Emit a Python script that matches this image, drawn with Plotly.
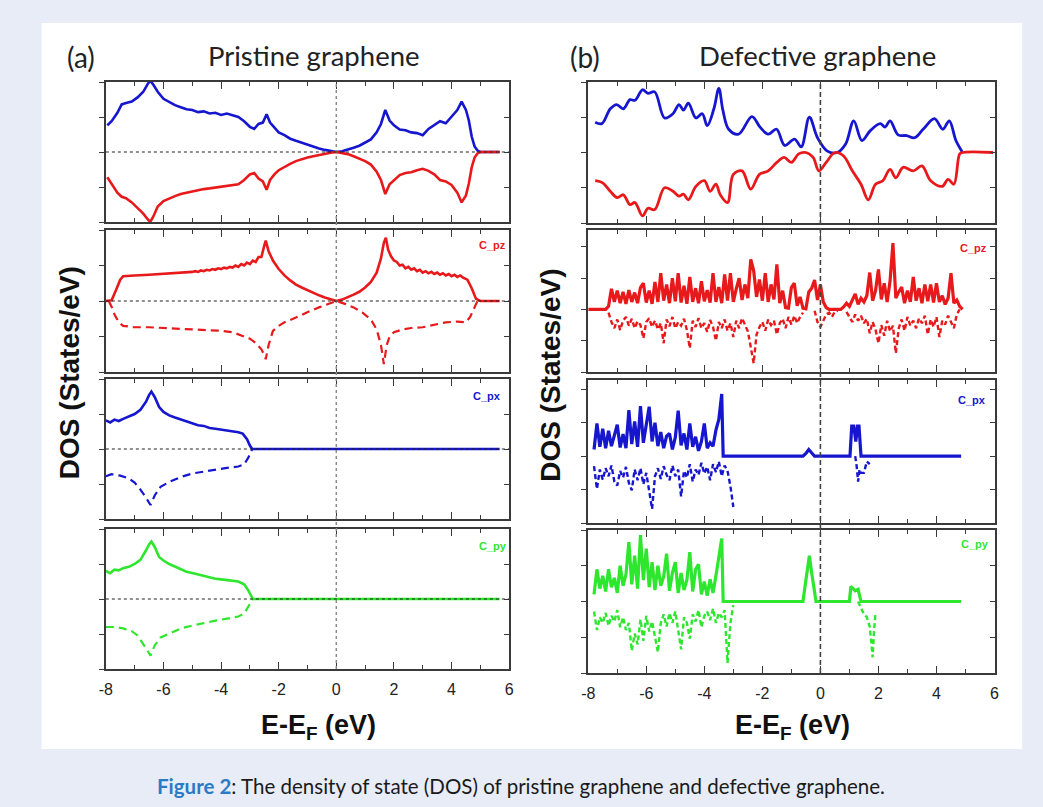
import numpy as np
import plotly.graph_objects as go

W, H = 1043, 807

# ---------------- colours ----------------
BLUE = "#1616cf"
RED = "#e8191b"
GREEN = "#2ee62e"
FRAME = "#3a3a3a"

# ---------------- energy tick labels ----------------
TICK_VALS = [-8, -6, -4, -2, 0, 2, 4, 6]
TICK_TEXT = ["-8", "-6", "-4", "-2", "0", "2", "4", "6"]

# ================= (a) Pristine graphene =================
# total DOS (spin up / spin down)
A1_X = [-7.95, -7.8, -7.6, -7.45, -7.3, -7.1, -6.9, -6.7, -6.55, -6.46, -6.35, -6.2, -6.0, -5.8,
        -5.6, -5.4, -5.2, -5.0, -4.8, -4.6, -4.4, -4.2, -4.0, -3.8, -3.6, -3.4, -3.2, -3.0, -2.85,
        -2.7, -2.55, -2.42, -2.3, -2.15, -2.0, -1.8, -1.6, -1.4, -1.2, -1.0, -0.8, -0.6, -0.4,
        -0.2, 0.0, 0.2, 0.4, 0.6, 0.8, 1.0, 1.2, 1.4, 1.55, 1.7, 1.85, 2.0, 2.2, 2.4, 2.6, 2.8,
        3.0, 3.2, 3.4, 3.6, 3.8, 4.0, 4.2, 4.35, 4.5, 4.6, 4.7, 4.8, 4.9, 5.0, 5.2, 5.67]
A1_UP = [0.38, 0.44, 0.56, 0.68, 0.70, 0.72, 0.78, 0.86, 0.97, 1.02, 0.96, 0.86, 0.76, 0.71,
         0.67, 0.64, 0.61, 0.60, 0.57, 0.58, 0.55, 0.56, 0.53, 0.55, 0.52, 0.50, 0.44, 0.36, 0.33,
         0.40, 0.42, 0.54, 0.42, 0.35, 0.28, 0.24, 0.19, 0.16, 0.13, 0.10, 0.07, 0.05, 0.03,
         0.01, 0.0, 0.01, 0.03, 0.06, 0.09, 0.13, 0.18, 0.28, 0.40, 0.60, 0.45, 0.38, 0.32, 0.31,
         0.28, 0.27, 0.24, 0.33, 0.39, 0.44, 0.41, 0.50, 0.60, 0.72, 0.60, 0.45, 0.22, 0.08, 0.02,
         0.0, 0.0, 0.0]
A1_DN = [-0.36, -0.45, -0.58, -0.64, -0.66, -0.72, -0.80, -0.88, -0.96, -1.0, -0.92, -0.78, -0.70,
         -0.66, -0.63, -0.60, -0.58, -0.56, -0.54, -0.53, -0.52, -0.51, -0.50, -0.49, -0.48, -0.46,
         -0.40, -0.32, -0.30, -0.38, -0.42, -0.54, -0.40, -0.32, -0.26, -0.21, -0.17, -0.13, -0.10,
         -0.08, -0.06, -0.04, -0.02, -0.01, 0.0, -0.01, -0.03, -0.06, -0.09, -0.13, -0.18, -0.28,
         -0.40, -0.60, -0.46, -0.40, -0.33, -0.30, -0.29, -0.26, -0.24, -0.27, -0.32, -0.40, -0.42,
         -0.47, -0.58, -0.72, -0.62, -0.45, -0.22, -0.08, -0.02, 0.0, 0.0, 0.0]

# C_pz
A2_UP_X = [-8.0, -7.8, -7.65, -7.5, -7.4, -7.2, -7.0, -6.5, -6.0, -5.5,
           -5.0, -4.9, -4.8, -4.7, -4.6, -4.5, -4.4, -4.3, -4.2, -4.1, -4.0, -3.9, -3.8, -3.7,
           -3.6, -3.5, -3.4, -3.3, -3.2, -3.1, -3.0, -2.9, -2.8, -2.7, -2.6,
           -2.5, -2.45, -2.35, -2.2, -2.0, -1.8, -1.6, -1.4, -1.2, -1.0, -0.8, -0.6, -0.4, -0.2,
           0.0, 0.2, 0.4, 0.6, 0.8, 1.0, 1.2, 1.4, 1.55, 1.65, 1.72, 1.8,
           1.9, 2.0, 2.1, 2.2, 2.3, 2.4, 2.5, 2.6, 2.7, 2.8, 2.9, 3.0, 3.1, 3.2, 3.3, 3.4, 3.5,
           3.6, 3.7, 3.8, 3.9, 4.0, 4.1, 4.2, 4.3, 4.4,
           4.55, 4.7, 4.85, 5.0, 5.67]
A2_UP = [0.0, 0.01, 0.15, 0.30, 0.35, 0.36, 0.36, 0.37, 0.38, 0.39,
         0.41, 0.42, 0.41, 0.43, 0.42, 0.44, 0.43, 0.45, 0.44, 0.46, 0.45, 0.47, 0.46, 0.48,
         0.47, 0.50, 0.48, 0.52, 0.50, 0.54, 0.52, 0.57, 0.55, 0.62, 0.62,
         0.78, 0.85, 0.70, 0.57, 0.45, 0.36, 0.29, 0.23, 0.19, 0.15, 0.12, 0.08, 0.05, 0.02,
         0.0, 0.02, 0.05, 0.09, 0.13, 0.19, 0.27, 0.40, 0.60, 0.82, 0.89, 0.72,
         0.63, 0.57, 0.55, 0.50, 0.51, 0.46, 0.48, 0.44, 0.46, 0.42, 0.44, 0.40, 0.42, 0.39, 0.41,
         0.38, 0.40, 0.37, 0.39, 0.36, 0.38, 0.35, 0.37, 0.34, 0.36, 0.33,
         0.30, 0.18, 0.03, 0.0, 0.0]
A2_DN_X = [-7.9, -7.8, -7.7, -7.55, -7.4, -7.0, -6.5, -6.0, -5.5, -5.0, -4.5, -4.0, -3.6, -3.3,
           -3.0, -2.8, -2.6, -2.5, -2.45, -2.35, -2.2, -2.0, -1.8, -1.5, -1.2, -0.9, -0.6, -0.3,
           0.0, 0.3, 0.6, 0.9, 1.2, 1.4, 1.55, 1.65, 1.75, 1.85, 2.0, 2.3, 2.6, 3.0, 3.4, 3.8,
           4.2, 4.5, 4.65, 4.8, 4.9]
A2_DN = [0.0, -0.08, -0.19, -0.30, -0.35, -0.37, -0.37, -0.38, -0.38, -0.40, -0.41, -0.42, -0.44,
         -0.48, -0.53, -0.59, -0.68, -0.76, -0.82, -0.62, -0.42, -0.35, -0.30, -0.25, -0.19, -0.14,
         -0.09, -0.04, 0.0, -0.04, -0.09, -0.16, -0.26, -0.40, -0.62, -0.89, -0.62, -0.50, -0.44,
         -0.40, -0.38, -0.37, -0.33, -0.30, -0.29, -0.30, -0.22, -0.08, 0.0]

# C_px
A3_UP_X = [-8.0, -7.85, -7.7, -7.55, -7.4, -7.2, -7.0, -6.8, -6.6, -6.5, -6.42, -6.3, -6.15, -6.0,
           -5.8, -5.6, -5.4, -5.2, -5.0, -4.8, -4.6, -4.4, -4.2, -4.0, -3.8, -3.6, -3.4, -3.25,
           -3.1, -3.0, -2.92, 5.67]
A3_UP = [0.41, 0.38, 0.42, 0.40, 0.43, 0.46, 0.50, 0.56, 0.68, 0.77, 0.82, 0.74, 0.60, 0.53, 0.48,
         0.45, 0.42, 0.39, 0.37, 0.34, 0.33, 0.30, 0.29, 0.28, 0.27, 0.26, 0.24, 0.22, 0.14, 0.05,
         0.0, 0.0]
A3_DN_X = [-8.0, -7.8, -7.5, -7.2, -7.0, -6.8, -6.6, -6.45, -6.3, -6.1, -5.8, -5.4, -5.0, -4.6,
           -4.2, -3.8, -3.4, -3.2, -3.05, -2.92]
A3_DN = [-0.39, -0.36, -0.38, -0.42, -0.48, -0.58, -0.70, -0.80, -0.66, -0.54, -0.47, -0.40, -0.35,
         -0.32, -0.30, -0.27, -0.25, -0.22, -0.12, 0.0]

# C_py
A4_UP_X = [-8.0, -7.85, -7.7, -7.55, -7.4, -7.2, -7.0, -6.8, -6.6, -6.5, -6.42, -6.3, -6.15, -6.0,
           -5.8, -5.6, -5.4, -5.2, -5.0, -4.8, -4.6, -4.4, -4.2, -4.0, -3.8, -3.6, -3.4, -3.2,
           -3.05, -2.9, 5.67]
A4_UP = [0.40, 0.37, 0.42, 0.41, 0.44, 0.46, 0.50, 0.56, 0.70, 0.78, 0.82, 0.74, 0.60, 0.55, 0.50,
         0.46, 0.42, 0.39, 0.37, 0.35, 0.32, 0.31, 0.29, 0.28, 0.27, 0.26, 0.25, 0.21, 0.12, 0.0, 0.0]
A4_DN_X = [-8.0, -7.7, -7.4, -7.1, -6.9, -6.7, -6.55, -6.45, -6.3, -6.1, -5.8, -5.4, -5.0, -4.6,
           -4.2, -3.8, -3.4, -3.2, -3.05, -2.9]
A4_DN = [-0.40, -0.40, -0.42, -0.46, -0.52, -0.64, -0.74, -0.81, -0.66, -0.55, -0.49, -0.42, -0.38,
         -0.34, -0.31, -0.28, -0.25, -0.21, -0.10, 0.0]

# ================= (b) Defective graphene =================
B1_UP_X = [-7.76, -7.53, -7.24, -7.02, -6.79, -6.56, -6.39, -6.13, -5.94, -5.71, -5.37, -5.08,
           -4.87, -4.72, -4.55, -4.29, -4.07, -3.90, -3.67, -3.50, -3.36, -3.16, -2.82, -2.36,
           -2.08, -1.80, -1.51, -1.23, -0.89, -0.66, -0.38, -0.10, 0.24, 0.58, 0.87, 1.15, 1.43,
           1.72, 2.06, 2.23, 2.40, 2.68, 2.97, 3.25, 3.54, 3.93, 4.22, 4.44, 4.67, 4.90]
B1_UP = [0.43, 0.41, 0.62, 0.68, 0.62, 0.75, 0.74, 0.89, 0.84, 0.86, 0.49, 0.55, 0.68, 0.60, 0.70,
         0.49, 0.55, 0.38, 0.62, 0.91, 0.60, 0.33, 0.26, 0.51, 0.36, 0.26, 0.33, 0.10, 0.19, 0.08,
         0.50, 0.21, 0.02, 0.0, 0.12, 0.45, 0.17, 0.31, 0.41, 0.36, 0.45, 0.25, 0.24, 0.21, 0.33,
         0.48, 0.33, 0.45, 0.17, 0.0]
B1_DN_X = [-7.76, -7.5, -7.24, -7.0, -6.79, -6.56, -6.39, -6.13, -5.94, -5.71, -5.37, -5.08, -4.87,
           -4.72, -4.55, -4.29, -4.0, -3.8, -3.6, -3.45, -3.2, -3.0, -2.7, -2.4, -2.1, -1.8, -1.5,
           -1.25, -1.0, -0.75, -0.5, -0.25, -0.05, 0.2, 0.5, 0.8, 1.1, 1.4, 1.65, 1.9, 2.15, 2.4,
           2.6, 2.85, 3.2, 3.5, 3.8, 4.2, 4.4, 4.6, 4.8, 4.9, 5.95]
B1_DN = [-0.40, -0.43, -0.55, -0.64, -0.60, -0.74, -0.71, -0.90, -0.79, -0.81, -0.50, -0.55, -0.62,
         -0.59, -0.67, -0.48, -0.40, -0.55, -0.45, -0.60, -0.71, -0.31, -0.26, -0.52, -0.31, -0.26,
         -0.14, -0.07, -0.14, -0.02, 0.0, -0.07, -0.26, -0.14, 0.0, -0.05, -0.26, -0.45, -0.67,
         -0.45, -0.40, -0.24, -0.36, -0.21, -0.26, -0.19, -0.40, -0.48, -0.38, -0.45, -0.02, 0.0,
         0.0]

# C_pz (sampled every 0.1 eV from the start energy)
B2_UP_E0 = -8.0
B2_UP = [0.0, 0.0, 0.0, 0.0, 0.0, 0.0, 0.0,
         0.05, 0.33, 0.12, 0.30, 0.10, 0.28, 0.09, 0.31, 0.12, 0.27, 0.10, 0.35, 0.42, 0.11, 0.30,
         0.09, 0.44, 0.12, 0.58, 0.14, 0.40, 0.10, 0.50, 0.13, 0.58, 0.11, 0.38, 0.09, 0.52, 0.12,
         0.34, 0.10, 0.45, 0.13, 0.31, 0.11, 0.58, 0.12, 0.36, 0.10, 0.56, 0.14, 0.58, 0.12, 0.33,
         0.50, 0.15, 0.40, 0.18, 0.80, 0.62, 0.20, 0.48, 0.14, 0.58, 0.12, 0.40, 0.16, 0.72, 0.10,
         0.30, 0.03, 0.02, 0.35, 0.42, 0.06, 0.20, 0.02, 0.01, 0.28, 0.34, 0.47, 0.15,
         0.40, 0.12, 0.03, 0.0, 0.0, 0.0, 0.0, 0.0, 0.04, 0.10, 0.05, 0.14, 0.25, 0.08, 0.18, 0.12,
         0.22, 0.59, 0.14, 0.30, 0.64, 0.16, 0.42, 0.12, 0.45, 1.06, 0.18, 0.28, 0.36, 0.10, 0.30,
         0.12, 0.52, 0.14, 0.34, 0.10, 0.40, 0.13, 0.40, 0.11, 0.42, 0.12, 0.22, 0.08, 0.18, 0.58,
         0.10, 0.15, 0.05, 0.0]
B2_DN_E0 = -7.3
B2_DN = [-0.05, -0.20, -0.30, -0.16, -0.33, -0.18, -0.12, -0.26, -0.15, -0.30, -0.19, -0.25, -0.46,
         -0.20, -0.14, -0.28, -0.18, -0.32, -0.22, -0.54, -0.16, -0.27, -0.12, -0.30, -0.20, -0.26,
         -0.15, -0.33, -0.62, -0.18, -0.28, -0.14, -0.30, -0.22, -0.36, -0.17, -0.28, -0.50, -0.20,
         -0.30, -0.16, -0.34, -0.22, -0.44, -0.18, -0.30, -0.14, -0.26, -0.35, -0.60, -0.86, -0.40,
         -0.28, -0.20, -0.34, -0.16, -0.25, -0.18, -0.40, -0.22, -0.15, -0.30, -0.12, -0.24, -0.10,
         -0.22, -0.12, -0.05, None, None, None, -0.02, -0.20,
         -0.28, -0.18, -0.08, -0.05, -0.12, -0.03, -0.02, None, None, -0.04, -0.12, -0.20, -0.08,
         -0.18, -0.10, -0.22, -0.15, -0.38, -0.20, -0.32, -0.54, -0.25, -0.42, -0.18, -0.35, -0.26,
         -0.70, -0.30, -0.16, -0.34, -0.12, -0.26, -0.18, -0.30, -0.14, -0.22, -0.10, -0.40, -0.16,
         -0.28, -0.12, -0.44, -0.18, -0.24, -0.10, -0.20, -0.30, -0.08, 0.0]

# C_px
B3_UP_E0 = -7.8
B3_UP = [0.10, 0.49, 0.14, 0.41, 0.12, 0.38, 0.15, 0.30, 0.47, 0.13, 0.33, 0.12, 0.69, 0.18, 0.52,
         0.14, 0.75, 0.20, 0.45, 0.74, 0.22, 0.50, 0.15, 0.36, 0.12, 0.30, 0.34, 0.10, 0.28, 0.68,
         0.16, 0.34, 0.10, 0.49, 0.14, 0.29, 0.08, 0.22, 0.49, 0.12, 0.20, 0.15, 0.39, 0.55, 0.93]
B3_UP_TAIL_X = [-3.35, -0.6, -0.5, -0.4, -0.3, -0.2, 1.02, 1.08, 1.15, 1.22, 1.28, 1.33, 1.4, 4.85]
B3_UP_TAIL = [0.0, 0.0, 0.04, 0.10, 0.05, 0.0, 0.0, 0.45, 0.45, 0.22, 0.45, 0.45, 0.0, 0.0]
B3_DN_E0 = -7.8
B3_DN = [-0.15, -0.49, -0.20, -0.35, -0.18, -0.30, -0.14, -0.38, -0.44, -0.22, -0.32, -0.16, -0.40,
         -0.51, -0.20, -0.36, -0.18, -0.42, -0.25, -0.55, -0.79, -0.30, -0.18, -0.34, -0.15, -0.28,
         -0.36, -0.14, -0.30, -0.20, -0.60, -0.22, -0.32, -0.12, -0.38, -0.20, -0.28, -0.10, -0.26,
         -0.16, -0.36, -0.12, -0.24, -0.08, -0.30, -0.14, -0.22, -0.45, -0.76]
B3_DN_TAIL_X = [1.2, 1.25, 1.3, 1.35, 1.4, 1.5, 1.6, 1.7]
B3_DN_TAIL = [0.0, -0.15, -0.38, -0.20, -0.25, -0.25, -0.08, -0.12]

# C_py
B4_UP_E0 = -7.8
B4_UP = [0.10, 0.45, 0.18, 0.36, 0.14, 0.45, 0.20, 0.33, 0.12, 0.50, 0.22, 0.38, 0.83, 0.24, 0.64,
         0.18, 0.93, 0.30, 0.74, 0.20, 0.55, 0.16, 0.50, 0.22, 0.35, 0.67, 0.15, 0.40, 0.55, 0.12,
         0.40, 0.16, 0.30, 0.69, 0.14, 0.45, 0.52, 0.10, 0.28, 0.08, 0.31, 0.12, 0.36, 0.60, 0.88]
B4_UP_TAIL_X = [-3.35, -0.6, -0.55, -0.45, -0.38, -0.3, -0.22, -0.15, 1.0, 1.05, 1.1, 1.2, 1.3,
                1.35, 1.4, 4.85]
B4_UP_TAIL = [0.0, 0.0, 0.15, 0.45, 0.64, 0.40, 0.15, 0.0, 0.0, 0.21, 0.19, 0.15, 0.17, 0.10, 0.0,
              0.0]
B4_DN_E0 = -7.8
B4_DN = [-0.14, -0.40, -0.22, -0.30, -0.16, -0.34, -0.20, -0.28, -0.12, -0.36, -0.22, -0.40, -0.30,
         -0.69, -0.45, -0.60, -0.25, -0.55, -0.20, -0.42, -0.28, -0.50, -0.71, -0.30, -0.18, -0.35,
         -0.16, -0.30, -0.14, -0.40, -0.67, -0.22, -0.30, -0.52, -0.18, -0.28, -0.12, -0.36, -0.20,
         -0.14, -0.26, -0.10, -0.30, -0.16, -0.22, -0.12, -0.86, -0.30, -0.05]
B4_DN_TAIL_X = [1.3, 1.4, 1.5, 1.6, 1.7, 1.75, 1.8, 1.85, 1.9]
B4_DN_TAIL = [0.0, -0.10, -0.18, -0.22, -0.35, -0.55, -0.78, -0.40, -0.15]

STEP = 0.1


def grid(e0, vals):
    return list(np.round(e0 + STEP * np.arange(len(vals)), 3))


# ---------------- geometry (pixels) ----------------
LEFT_X = (100, 508)
RIGHT_X = (588, 999)
ROWS_L = [(82, 222), (230, 372), (379, 519), (529, 669)]
ROWS_R = [(82, 223), (230, 372), (380, 523), (530, 673)]
Y_RANGES = {1: [-1, 1], 2: [-1, 1], 3: [-1, 1], 4: [-1, 1],
            5: [-1, 1], 6: [-1, 1.27], 7: [-1, 1.14], 8: [-1, 1.0]}


def fx(p):
    return p / W


def fy(p):
    return 1 - p / H


def sfx(n):
    return "" if n == 1 else str(n)


fig = go.Figure()


def add(x, y, n, color, dash="solid", shape="linear", width=2.6):
    fig.add_trace(go.Scatter(
        x=x, y=y, mode="lines",
        line=dict(color=color, width=width, dash=dash, shape=shape),
        xaxis="x" + sfx(n), yaxis="y" + sfx(n),
        showlegend=False, hoverinfo="skip", connectgaps=False))


LONG_DASH = "8px,5px"
SHORT_DASH = "5px,3px"

# (a)
add(A1_X, A1_UP, 1, BLUE)
add(A1_X, A1_DN, 1, RED)
add(A2_UP_X, A2_UP, 2, RED)
add(A2_DN_X, A2_DN, 2, RED, dash=LONG_DASH, width=2.2)
add(A3_UP_X, A3_UP, 3, BLUE)
add(A3_DN_X, A3_DN, 3, BLUE, dash=LONG_DASH, width=2.2)
add(A4_UP_X, A4_UP, 4, GREEN)
add(A4_DN_X, A4_DN, 4, GREEN, dash=LONG_DASH, width=2.2)
# (b)
add(B1_UP_X, B1_UP, 5, BLUE, shape="spline", width=2.8)
add(B1_DN_X, B1_DN, 5, RED, shape="spline", width=2.8)
add(grid(B2_UP_E0, B2_UP), B2_UP, 6, RED, width=3.2)
add(grid(B2_DN_E0, B2_DN), B2_DN, 6, RED, dash=SHORT_DASH, width=2.4)
add(grid(B3_UP_E0, B3_UP) + B3_UP_TAIL_X, B3_UP + B3_UP_TAIL, 7, BLUE, width=3.2)
add(grid(B3_DN_E0, B3_DN), B3_DN, 7, BLUE, dash=SHORT_DASH, width=2.4)
add(B3_DN_TAIL_X, B3_DN_TAIL, 7, BLUE, dash=SHORT_DASH, width=2.4)
add(grid(B4_UP_E0, B4_UP) + B4_UP_TAIL_X, B4_UP + B4_UP_TAIL, 8, GREEN, width=3.2)
add(grid(B4_DN_E0, B4_DN), B4_DN, 8, GREEN, dash=SHORT_DASH, width=2.4)
add(B4_DN_TAIL_X, B4_DN_TAIL, 8, GREEN, dash=SHORT_DASH, width=2.4)

layout = dict(
    width=W, height=H, margin=dict(l=0, r=0, t=0, b=0),
    paper_bgcolor="#e8ecf6", plot_bgcolor="white",
    showlegend=False,
)

YTICKS = [-1, -0.5, 0, 0.5, 1]
for n in range(1, 9):
    left = n <= 4
    xs = LEFT_X if left else RIGHT_X
    rows = ROWS_L if left else ROWS_R
    top, bot = rows[(n - 1) % 4]
    bottom_row = (n % 4 == 0)
    layout["xaxis" + sfx(n)] = dict(
        domain=[fx(xs[0]), fx(xs[1])], range=[-8, 6], anchor="y" + sfx(n),
        showline=True, linecolor=FRAME, linewidth=1.6, mirror="ticks",
        ticks="inside", ticklen=7, tickwidth=1.4, tickcolor=FRAME,
        tickmode="array", tickvals=TICK_VALS, ticktext=TICK_TEXT,
        minor=dict(dtick=1, tick0=0, ticks="inside", ticklen=4, tickwidth=1.4, tickcolor=FRAME),
        showgrid=False, zeroline=False, showticklabels=bottom_row,
        ticklabelstandoff=5,
        tickfont=dict(family="Liberation Sans, Arial", size=16, color="#222"),
        fixedrange=True,
    )
    layout["yaxis" + sfx(n)] = dict(
        domain=[fy(bot), fy(top)], range=Y_RANGES[n], anchor="x" + sfx(n),
        showline=True, linecolor=FRAME, linewidth=1.6, mirror=True,
        ticks="outside", ticklen=5, tickwidth=1.4, tickcolor=FRAME,
        tickvals=YTICKS, showticklabels=False, showgrid=False, zeroline=False,
        fixedrange=True,
    )
    # right-hand inward ticks
    layout["yaxis" + str(n + 8)] = dict(
        overlaying="y" + sfx(n), anchor="x" + sfx(n), side="right", range=Y_RANGES[n],
        ticks="inside", ticklen=5, tickwidth=1.4, tickcolor=FRAME,
        tickvals=YTICKS, showticklabels=False, showline=False, showgrid=False,
        zeroline=False, fixedrange=True,
    )
    fig.add_trace(go.Scatter(x=[None], y=[None], xaxis="x" + sfx(n), yaxis="y" + str(n + 8),
                             showlegend=False, hoverinfo="skip"))

shapes = [
    dict(type="rect", xref="paper", yref="paper", x0=fx(35), x1=fx(1027), y0=fy(749), y1=fy(23),
         fillcolor="white", line=dict(width=0), layer="below"),
    # Fermi level lines
    dict(type="line", xref="x4", yref="paper", x0=0, x1=0, y0=fy(669), y1=fy(82),
         line=dict(color="#8a8a8a", width=1.5, dash="dot")),
    dict(type="line", xref="x8", yref="paper", x0=0, x1=0, y0=fy(673), y1=fy(82),
         line=dict(color="#444444", width=1.6, dash="5px,3px")),
]
for n in range(1, 5):
    shapes.append(dict(type="line", xref="x" + sfx(n), yref="y" + sfx(n), x0=-8, x1=6, y0=0, y1=0,
                       line=dict(color="#222", width=1.1, dash="dot")))

TFONT = "Lato, Open Sans, sans-serif"
ann = []


def text(x, y, s, size, family=TFONT, color="#222", angle=0, xanchor="center"):
    ann.append(dict(xref="paper", yref="paper", x=fx(x), y=fy(y), text=s, showarrow=False,
                    font=dict(family=family, size=size, color=color), textangle=angle,
                    xanchor=xanchor, yanchor="middle"))


text(75, 57, "(a)", 28)
text(311, 55, "Pristine graphene", 27.5)
text(585, 57, "(b)", 28)
text(820, 55, "Defective graphene", 27.5)

AR = "Liberation Sans, Arial"
text(63, 373, "<b>DOS (States/eV)</b>", 28, family=AR, color="#111", angle=-90)
text(549, 375, "<b>DOS (States/eV)</b>", 28, family=AR, color="#111", angle=-90)
text(315, 727, "<b>E-E<sub>F</sub> (eV)</b>", 27, family=AR, color="#111")
text(795, 727, "<b>E-E<sub>F</sub> (eV)</b>", 27, family=AR, color="#111")

text(507, 245, "<b>C_pz</b>", 11, family=AR, color=RED, xanchor="right")
text(502, 396, "<b>C_px</b>", 11, family=AR, color=BLUE, xanchor="right")
text(508, 546, "<b>C_py</b>", 11, family=AR, color=GREEN, xanchor="right")
text(993, 248, "<b>C_pz</b>", 11, family=AR, color=RED, xanchor="right")
text(992, 400, "<b>C_px</b>", 11, family=AR, color=BLUE, xanchor="right")
text(995, 544, "<b>C_py</b>", 11, family=AR, color=GREEN, xanchor="right")

text(520, 786, "<span style='color:#2b7bc4'><b>Figure 2</b></span>: The density of state (DOS) "
     "of pristine graphene and defective graphene.", 20.5, family=TFONT, color="#1a1a1a")

layout["shapes"] = shapes
layout["annotations"] = ann
fig.update_layout(**layout)
fig.write_html("out.html")
